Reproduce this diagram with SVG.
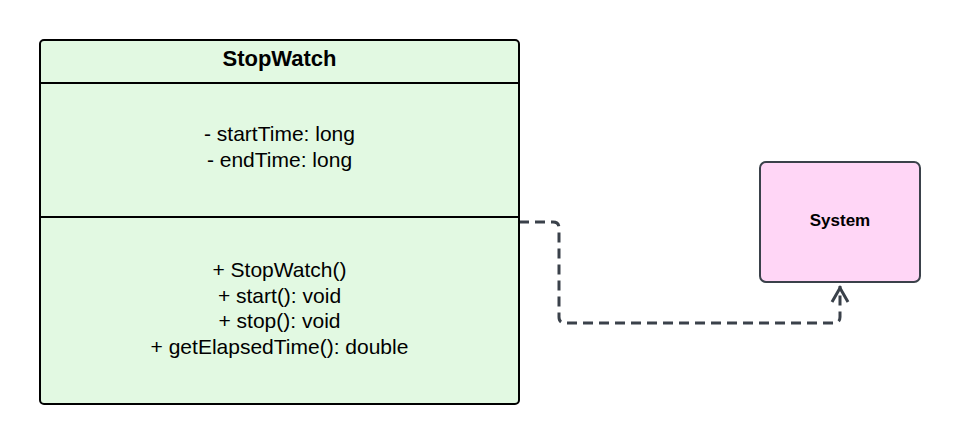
<svg xmlns="http://www.w3.org/2000/svg" width="960" height="444" viewBox="0 0 960 444">
<style>
.t{font-family:"Liberation Sans",Arial,sans-serif;font-size:21px;fill:#000;text-anchor:middle}
.b{font-weight:bold}
.conn{fill:none;stroke:#3a414a;stroke-width:3;stroke-dasharray:10 6;stroke-linejoin:round}
</style>
<rect width="960" height="444" fill="#fff"/>
<g id="connectors">
<path class="conn" d="M519,222 H553 Q559,222 559,228 V317 Q559,323 565,323 H834 Q840,323 840,317 V286"/>
<path d="M832,302 L840,288 L848,302" fill="none" stroke="#3a414a" stroke-width="3"/>
</g>
<g id="StopWatch">
<rect x="40" y="40" width="479" height="364" rx="4" fill="#e2f9e2" stroke="#000" stroke-width="2"/>
<line x1="40" y1="83" x2="519" y2="83" stroke="#000" stroke-width="2"/>
<line x1="40" y1="217" x2="519" y2="217" stroke="#000" stroke-width="2"/>
<text class="t b" x="279.5" y="66" style="font-size:22px">StopWatch</text>
<text class="t" x="279.5" y="141">- startTime: long</text>
<text class="t" x="279.5" y="167">- endTime: long</text>
<text class="t" x="279.5" y="277">+ StopWatch()</text>
<text class="t" x="279.5" y="303">+ start(): void</text>
<text class="t" x="279.5" y="328">+ stop(): void</text>
<text class="t" x="279.5" y="354">+ getElapsedTime(): double</text>
</g>
<g id="System">
<rect x="760" y="162" width="160" height="120" rx="6" fill="#ffd6f6" stroke="#3a414a" stroke-width="2"/>
<text class="t b" x="840" y="226" style="font-size:17px">System</text>
</g>
</svg>
